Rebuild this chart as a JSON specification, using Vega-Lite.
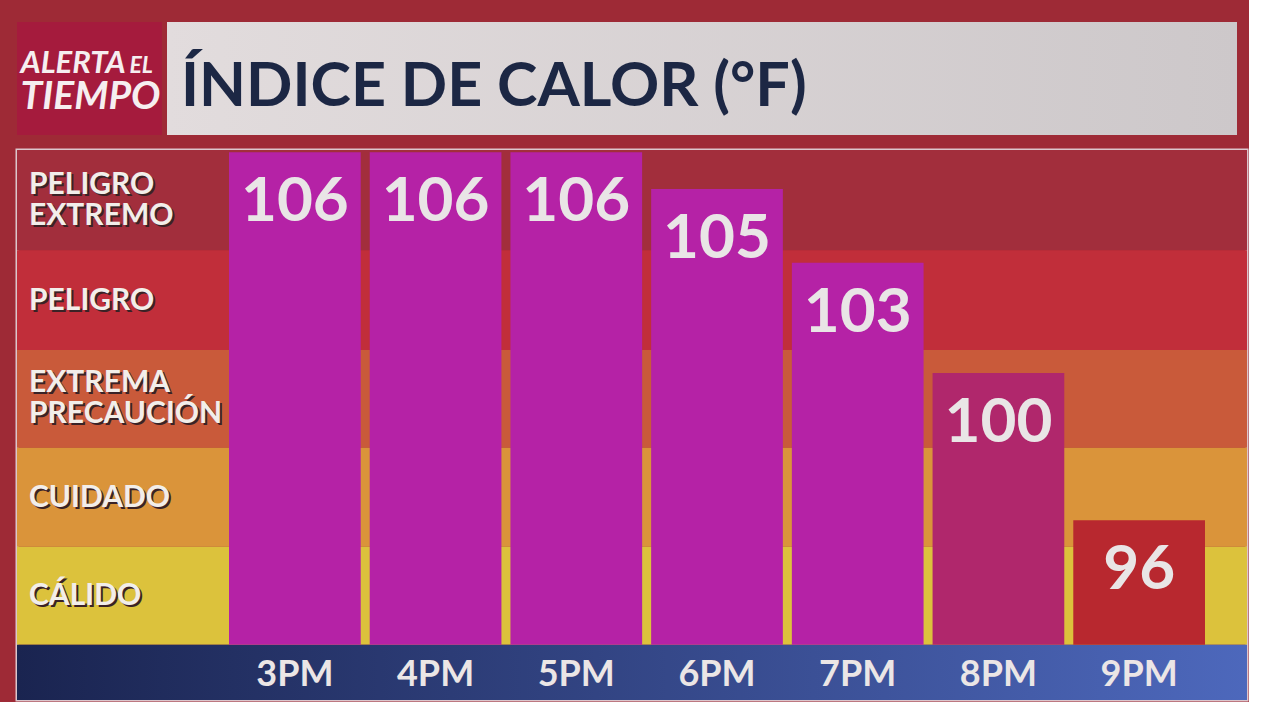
{
  "$schema": "https://vega.github.io/schema/vega-lite/v6.json",
  "background": "#9e2a36",
  "padding": {"left": 15, "top": 22, "right": 0, "bottom": 0},
  "config": {"view": {"stroke": null}, "font": "Lato"},
  "datasets": {
    "horas": [
      {"hora": "3PM", "valor": 106},
      {"hora": "4PM", "valor": 106},
      {"hora": "5PM", "valor": 106},
      {"hora": "6PM", "valor": 105},
      {"hora": "7PM", "valor": 103},
      {"hora": "8PM", "valor": 100},
      {"hora": "9PM", "valor": 96}
    ],
    "bandas": [
      {"nivel": "PELIGRO\nEXTREMO", "lo": 103.34, "hi": 106.06},
      {"nivel": "PELIGRO", "lo": 100.63, "hi": 103.34},
      {"nivel": "EXTREMA\nPRECAUCIÓN", "lo": 97.97, "hi": 100.63},
      {"nivel": "CUIDADO", "lo": 95.28, "hi": 97.97},
      {"nivel": "CÁLIDO", "lo": 92.62, "hi": 95.28}
    ],
    "cabecera": [{"logo1": "ALERTA", "logo2": "EL", "logo3": "TIEMPO", "titulo": "ÍNDICE DE CALOR (°F)"}]
  },
  "vconcat": [
    {
      "hconcat": [
        {
          "width": 145,
          "height": 113,
          "view": {"fill": "#a51b3d", "stroke": null},
          "data": {"name": "cabecera"},
          "layer": [
            {"mark": {"type": "text", "font": "Lato", "fontStyle": "italic", "fontWeight": "bold", "fontSize": 31, "color": "#f6eef0", "align": "left", "baseline": "alphabetic", "dx": -69, "dy": -6}, "encoding": {"text": {"field": "logo1"}}},
            {"mark": {"type": "text", "font": "Lato", "fontStyle": "italic", "fontWeight": "bold", "fontSize": 23, "color": "#f6eef0", "align": "left", "baseline": "alphabetic", "dx": 40, "dy": -6}, "encoding": {"text": {"field": "logo2"}}},
            {"mark": {"type": "text", "font": "Lato", "fontStyle": "italic", "fontWeight": "bold", "fontSize": 39, "color": "#f6eef0", "align": "left", "baseline": "alphabetic", "dx": -69, "dy": 30}, "encoding": {"text": {"field": "logo3"}}}
          ]
        },
        {
          "width": 1070,
          "height": 113,
          "view": {"fill": {"gradient": "linear", "x1": 0, "x2": 1, "y1": 0, "y2": 0, "stops": [{"offset": 0, "color": "#e2dcdd"}, {"offset": 1, "color": "#cdc8ca"}]}, "stroke": null},
          "data": {"name": "cabecera"},
          "mark": {"type": "text", "font": "Lato", "fontWeight": "bold", "fontSize": 61, "color": "#1c2744", "align": "left", "baseline": "alphabetic", "dx": -521, "dy": 27},
          "encoding": {"text": {"field": "titulo"}}
        }
      ],
      "spacing": 5
    },
    {
      "width": 1230,
      "height": 550,
      "view": {"stroke": "#dcc6cc", "strokeWidth": 3},
      "resolve": {"scale": {"color": "independent"}},
      "layer": [
        {
          "data": {"name": "bandas"},
          "mark": {"type": "rect"},
          "encoding": {
            "y": {"field": "lo", "type": "quantitative", "scale": {"domain": [91.12, 106.06], "nice": false, "zero": false}, "axis": null},
            "y2": {"field": "hi"},
            "color": {"field": "nivel", "type": "nominal", "legend": null, "scale": {"domain": ["PELIGRO\nEXTREMO", "PELIGRO", "EXTREMA\nPRECAUCIÓN", "CUIDADO", "CÁLIDO"], "range": ["#a22e3c", "#c12e3a", "#c95a3a", "#da943a", "#dcc23c"]}}
          }
        },
        {
          "data": {"values": [{"franja": "horas"}]},
          "mark": {"type": "rect", "color": {"gradient": "linear", "x1": 0, "x2": 1, "y1": 0, "y2": 0, "stops": [{"offset": 0, "color": "#1a2450"}, {"offset": 1, "color": "#4d68bc"}]}},
          "encoding": {
            "y": {"datum": 91.12, "type": "quantitative"},
            "y2": {"datum": 92.62}
          }
        },
        {
          "data": {"name": "bandas"},
          "mark": {"type": "text", "font": "Lato", "fontWeight": "bold", "fontSize": 30, "color": "#3a2226", "align": "left", "baseline": "middle", "lineBreak": "\n", "lineHeight": 31, "dx": -601, "dy": {"expr": "indexof(datum.nivel, '\\n') >= 0 ? -63 : -47"}},
          "encoding": {
            "y": {"field": "lo", "type": "quantitative"},
            "text": {"field": "nivel"}
          }
        },
        {
          "data": {"name": "bandas"},
          "mark": {"type": "text", "font": "Lato", "fontWeight": "bold", "fontSize": 30, "color": "#f2eeea", "align": "left", "baseline": "middle", "lineBreak": "\n", "lineHeight": 31, "dx": -603, "dy": {"expr": "indexof(datum.nivel, '\\n') >= 0 ? -65 : -49"}},
          "encoding": {
            "y": {"field": "lo", "type": "quantitative"},
            "text": {"field": "nivel"}
          }
        },
        {
          "data": {"name": "horas"},
          "mark": {"type": "bar"},
          "encoding": {
            "x": {"field": "hora", "type": "nominal", "sort": null, "axis": null, "scale": {"range": [212, 1188], "paddingInner": 0.064, "paddingOuter": 0}},
            "y": {"field": "valor", "type": "quantitative"},
            "y2": {"datum": 92.62},
            "color": {"field": "valor", "type": "quantitative", "legend": null, "scale": {"type": "threshold", "domain": [97, 101], "range": ["#b8282f", "#b0276c", "#b522a6"]}}
          }
        },
        {
          "data": {"name": "horas"},
          "mark": {"type": "text", "font": "Lato", "fontWeight": "bold", "fontSize": 62, "color": "#e9e5e6", "baseline": "middle", "dy": 50},
          "encoding": {
            "x": {"field": "hora", "type": "nominal", "sort": null},
            "y": {"field": "valor", "type": "quantitative"},
            "text": {"field": "valor", "type": "quantitative"}
          }
        },
        {
          "data": {"name": "horas"},
          "mark": {"type": "text", "font": "Lato", "fontWeight": "bold", "fontSize": 36, "color": "#ebe6e6", "baseline": "middle"},
          "encoding": {
            "x": {"field": "hora", "type": "nominal", "sort": null},
            "y": {"datum": 91.8, "type": "quantitative"},
            "text": {"field": "hora"}
          }
        }
      ]
    }
  ],
  "spacing": 13
}
